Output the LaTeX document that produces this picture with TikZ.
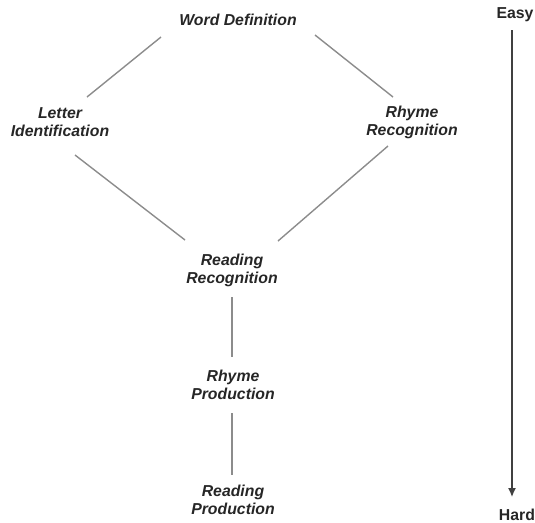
\documentclass[tikz,border=0pt]{standalone}
\usepackage{fontspec}
\newfontfamily\skillfont{Liberation Sans}
\usetikzlibrary{calc,arrows.meta}

\begin{document}
\begin{tikzpicture}[x=0.02cm,y=-0.02cm,
   skill/.style={font=\skillfont\bfseries\itshape\fontsize{9}{10.2}\selectfont,
      text=black!85, align=center, inner sep=0pt},
   level/.style={skill, font=\skillfont\bfseries\fontsize{9}{10.2}\selectfont},
   link/.style={draw=black!45, line width=0.8pt},
   scalearrow/.style={draw=black!75, line width=0.8pt, -{Latex[length=5pt,width=4.5pt]}}]
   \useasboundingbox (0,0) rectangle (535,522);
   \node[skill] (word) at (238,20) {Word Definition};
   \node[skill] (letter) at (60,122) {Letter\\Identification};
   \node[skill] (rhymerec) at (412,122) {Rhyme\\Recognition};
   \node[skill] (readrec) at (232,270) {Reading\\Recognition};
   \node[skill] (rhymeprod) at (233,385) {Rhyme\\Production};
   \node[skill] (readprod) at (233,500) {Reading\\Production};
   \node[level] (easy) at (515,15) {Easy};
   \node[level] (hard) at (517,515) {Hard};
   \draw[link] ($(word)+(-77,17)$) -- ($(letter)+(27,-25)$);
   \draw[link] ($(word)+(77,15)$) -- ($(rhymerec)+(-19,-25)$);
   \draw[link] ($(letter)+(15,33)$) -- ($(readrec)+(-47,-30)$);
   \draw[link] ($(rhymerec)+(-24,24)$) -- ($(readrec)+(46,-29)$);
   \draw[link] ($(readrec)+(0,27)$) -- ($(rhymeprod)+(-1,-28)$);
   \draw[link] ($(rhymeprod)+(-1,28)$) -- ($(readprod)+(-1,-25)$);
   \draw[scalearrow] ($(easy)+(-3,15)$) -- ($(hard)+(-5,-18)$);
  \end{tikzpicture}
\end{document}
